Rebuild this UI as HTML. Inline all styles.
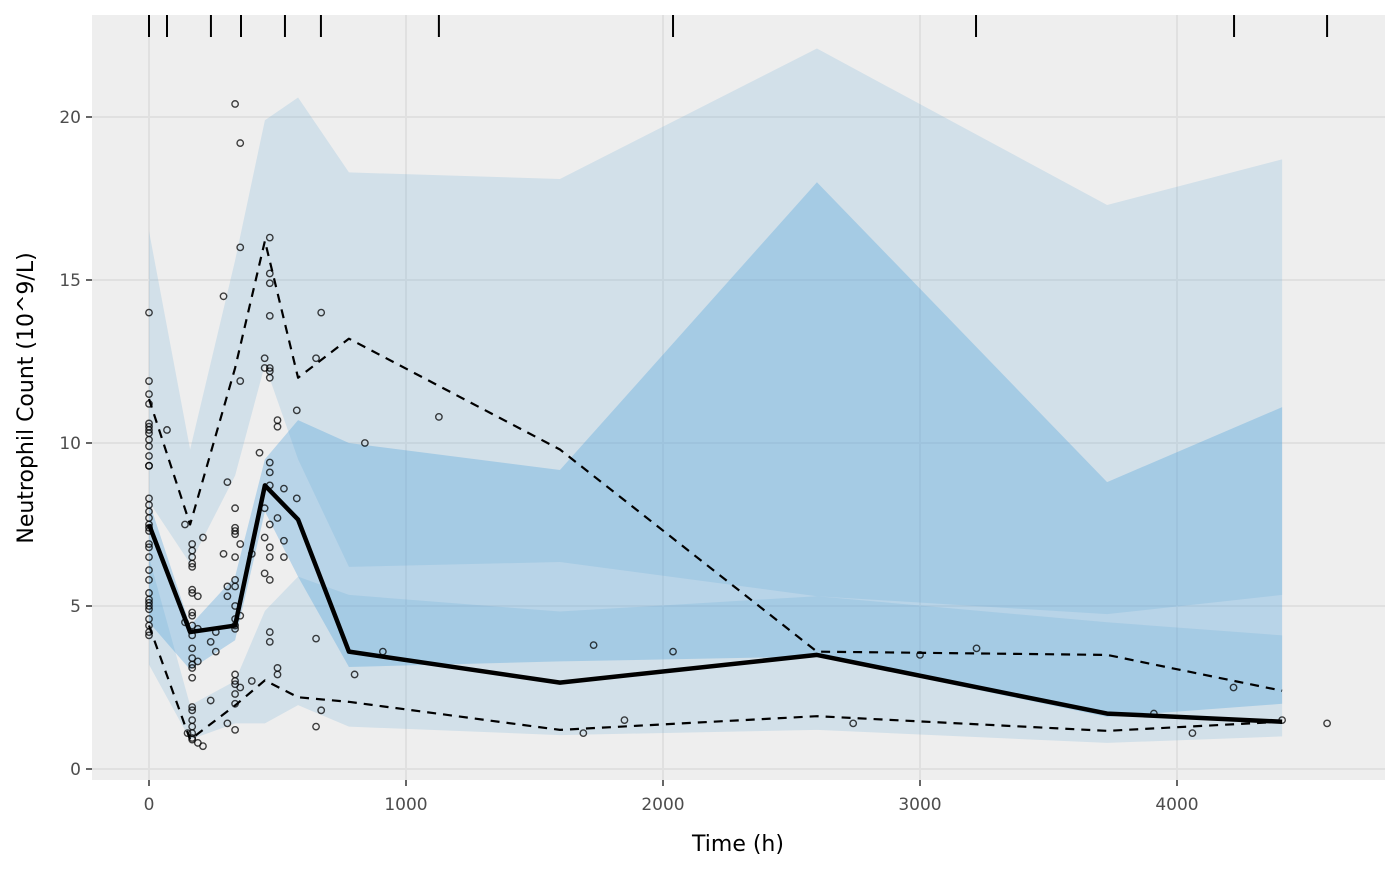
<!DOCTYPE html>
<html><head><meta charset="utf-8"><style>
html,body{margin:0;padding:0;background:#fff;}
svg text{font-family:"DejaVu Sans","Liberation Sans",sans-serif;}
</style></head><body>
<svg id="chart" width="1400" height="865" viewBox="0 0 1400 865" xmlns="http://www.w3.org/2000/svg">
<rect x="92" y="15" width="1293" height="765" fill="#eeeeee"/>
<g id="grid"></g>
<g id="bands"></g>
<g id="lines"></g>
<g id="points"></g>
<g id="rug"></g>
<g id="axes"></g>
<text x="738" y="851" text-anchor="middle" font-size="22" fill="#000">Time (h)</text>
<text transform="translate(33,398) rotate(-90)" text-anchor="middle" font-size="22" fill="#000">Neutrophil Count (10^9/L)</text>
</svg>
<script>
const bins=[0,160,335,451,580,778,1599,2599,3728,4409];
const upHi=[16.5,9.8,15.6,19.9,20.6,18.3,18.1,22.1,17.3,18.7];
const upLo=[8.2,6.3,9.0,12.4,9.5,6.2,6.35,5.3,4.75,5.34];
const medHi=[8.2,4.4,5.9,9.5,10.7,10.0,9.17,18.0,8.8,11.1];
const medLo=[4.5,3.05,3.95,7.9,5.9,3.13,3.3,3.45,1.6,2.0];
const loHi=[6.5,1.95,2.7,4.85,5.9,5.34,4.83,5.3,4.5,4.1];
const loLo=[3.2,0.9,1.4,1.4,1.96,1.3,1.04,1.2,0.8,1.0];
const obsMed=[7.5,4.2,4.4,8.7,7.65,3.6,2.65,3.5,1.7,1.45];
const obsHi=[11.35,7.5,12.3,16.2,12.0,13.2,9.8,3.6,3.5,2.4];
const obsLo=[4.4,0.9,1.95,2.72,2.2,2.06,1.2,1.62,1.17,1.45];
const rugTimes=[0,70,241,358,529,669,1128,2039,3218,4222,4584];
const xTicks=[0,1000,2000,3000,4000];
const yTicks=[0,5,10,15,20];
const ptT=[0,0,0,0,0,0,0,0,0,0,0,0,0,0,0,0,0,0,0,0,0,0,0,0,0,0,0,0,0,0,0,0,0,0,70,140,140,
168,168,168,168,168,168,168,168,168,168,168,168,168,168,168,168,168,168,168,168,168,168,168,150,
190,190,190,190,210,210,240,240,260,260,290,290,305,305,305,305,
335,335,335,335,335,335,335,335,335,335,335,335,335,335,335,335,335,335,
355,355,355,355,355,355,400,400,430,450,450,450,450,450,
470,470,470,470,470,470,470,470,470,470,470,470,470,470,470,470,
500,500,500,500,500,525,525,525,575,575,650,650,650,670,670,800,840,910,1128,1690,1730,1850,2039,2740,3000,3220,3910,4060,4220,4409,4584];
const ptV=[14.0,11.9,11.5,11.2,10.6,10.5,10.4,10.3,10.1,9.9,9.6,9.3,9.3,8.3,8.1,7.9,7.7,7.5,7.4,7.3,6.9,6.8,6.5,6.1,5.8,5.4,5.2,5.1,5.0,4.9,4.6,4.4,4.2,4.1,10.4,4.5,7.5,
6.9,6.7,6.5,6.3,6.2,5.5,5.4,4.8,4.7,4.4,4.1,3.7,3.4,3.2,3.1,2.8,1.9,1.8,1.5,1.3,1.1,0.95,0.9,1.1,
5.3,4.3,3.3,0.8,7.1,0.7,3.9,2.1,3.6,4.2,14.5,6.6,8.8,5.6,5.3,1.4,
20.4,8.0,7.4,7.3,7.2,6.5,5.8,5.6,5.0,4.6,4.4,4.3,2.9,2.7,2.6,2.3,2.0,1.2,
19.2,16.0,11.9,6.9,4.7,2.5,6.6,2.7,9.7,12.6,12.3,8.0,7.1,6.0,
16.3,15.2,14.9,13.9,12.3,12.2,12.0,9.4,9.1,8.7,7.5,6.8,6.5,5.8,4.2,3.9,
10.7,10.5,7.7,3.1,2.9,8.6,7.0,6.5,11.0,8.3,12.6,4.0,1.3,14.0,1.8,2.9,10.0,3.6,10.8,1.1,3.8,1.5,3.6,1.4,3.5,3.7,1.7,1.1,2.5,1.5,1.4];

const NS="http://www.w3.org/2000/svg";
function X(t){return 149+t*0.257;}
function Y(v){return 769-v*32.6;}
function mk(tag,parent,attrs){const e=document.createElementNS(NS,tag);for(const k in attrs)e.setAttribute(k,attrs[k]);document.getElementById(parent).appendChild(e);return e;}

xTicks.forEach(t=>{const l=mk('line','grid',{x1:X(t),x2:X(t),y1:15,y2:780,stroke:'#e0e0e0','stroke-width':2});

});
yTicks.forEach(v=>{const l=mk('line','grid',{x1:92,x2:1385,y1:Y(v),y2:Y(v),stroke:'#e0e0e0','stroke-width':2});

});

function ribbon(lo,hi,fill,op,name){
  let d='M'+bins.map((t,i)=>X(t)+','+Y(hi[i])).join(' L');
  for(let i=bins.length-1;i>=0;i--)d+=' L'+X(bins[i])+','+Y(lo[i]);
  const p=mk('path','bands',{d:d+'Z',fill:fill,'fill-opacity':op});
  
  
}
ribbon(upLo,upHi,'rgb(100,170,215)',0.2,'upper-ci-ribbon');
ribbon(loLo,loHi,'rgb(100,170,215)',0.2,'lower-ci-ribbon');
ribbon(medLo,medHi,'rgb(84,164,221)',0.35,'median-ci-ribbon');

function line(vals,w,dash,name){
  const p=mk('polyline','lines',{points:bins.map((t,i)=>X(t)+','+Y(vals[i])).join(' '),fill:'none',stroke:'#000','stroke-width':w,'stroke-dasharray':dash,'stroke-linejoin':'round'});
  
  
}
line(obsHi,2.2,'9,7','observed-p95-line');
line(obsLo,2.2,'9,7','observed-p05-line');
line(obsMed,4.5,'none','observed-median-line');

ptT.forEach((t,i)=>{const c=mk('circle','points',{cx:X(t),cy:Y(ptV[i]),r:3.2,fill:'none',stroke:'#000','stroke-opacity':0.75,'stroke-width':1.4});

});

rugTimes.forEach(t=>{const l=mk('line','rug',{x1:X(t),x2:X(t),y1:15,y2:37,stroke:'#000','stroke-width':2});

});

xTicks.forEach(t=>{
  const l=mk('line','axes',{x1:X(t),x2:X(t),y1:780,y2:786,stroke:'#333','stroke-width':1.5});
  
  
  const tx=mk('text','axes',{x:X(t),y:810,'text-anchor':'middle','font-size':17,fill:'#4d4d4d'});
  tx.textContent=t;
  
  
});
yTicks.forEach(v=>{
  const l=mk('line','axes',{x1:86,x2:92,y1:Y(v),y2:Y(v),stroke:'#333','stroke-width':1.5});
  
  
  const tx=mk('text','axes',{x:81,y:Y(v)+6,'text-anchor':'end','font-size':17,fill:'#4d4d4d'});
  tx.textContent=v;
  
  
});
</script>
</body></html>
